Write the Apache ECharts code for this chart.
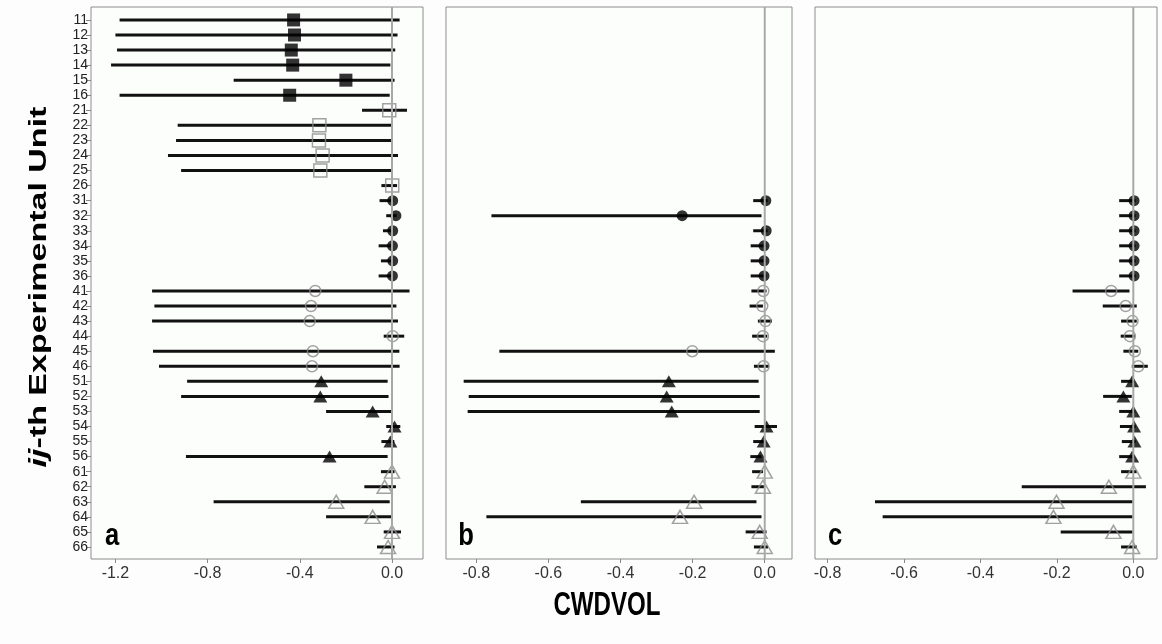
<!DOCTYPE html>
<html>
<head>
<meta charset="utf-8">
<script src="https://cdn.jsdelivr.net/npm/echarts@6/dist/echarts.min.js"></script>
<style>html,body{margin:0;padding:0;background:#fcfdfc;}#chart{width:1162px;height:644px;}</style>
</head>
<body>
<div id="chart"></div>
<script>
// ---- data ----
const rows = ['11','12','13','14','15','16','21','22','23','24','25','26','31','32','33','34','35','36',
              '41','42','43','44','45','46','51','52','53','54','55','56','61','62','63','64','65','66'];
const ticksA = [-1.2, -0.8, -0.4, 0.0];
const ticksBC = [-0.8, -0.6, -0.4, -0.2, 0.0];

// panel a
const estA = [-0.427,-0.423,-0.437,-0.431,-0.200,-0.444, -0.012,-0.315,-0.317,-0.301,-0.311,0.001,
              0.003,0.017,0.003,0.002,0.003,0.002, -0.333,-0.351,-0.357,0.003,-0.343,-0.347,
              -0.307,-0.311,-0.084,0.011,-0.007,-0.271, 0.000,-0.032,-0.242,-0.084,0.000,-0.017];
const loA  = [-1.182,-1.200,-1.193,-1.219,-0.687,-1.182, -0.130,-0.930,-0.937,-0.972,-0.915,-0.046,
              -0.054,-0.025,-0.039,-0.058,-0.048,-0.058, -1.041,-1.031,-1.041,-0.036,-1.037,-1.011,
              -0.889,-0.915,-0.286,-0.025,-0.046,-0.894, -0.048,-0.120,-0.774,-0.286,-0.036,-0.065];
const hiA  = [0.033,0.024,0.014,-0.007,0.011,-0.010, 0.065,-0.003,0.000,0.026,-0.003,0.022,
              0.005,0.020,0.005,0.004,0.005,0.004, 0.076,0.019,0.026,0.053,0.032,0.033,
              -0.019,-0.015,-0.003,0.036,0.010,-0.019, 0.011,0.017,-0.010,-0.003,0.039,0.011];
// panel b (units 11-26 absent)
const estB = [null,null,null,null,null,null, null,null,null,null,null,null,
              0.003,-0.229,0.004,-0.002,-0.002,-0.002, -0.004,-0.007,0.002,-0.005,-0.201,-0.003,
              -0.266,-0.272,-0.258,0.005,-0.003,-0.012, 0.000,-0.005,-0.196,-0.235,-0.014,0.000];
const loB  = [null,null,null,null,null,null, null,null,null,null,null,null,
              -0.032,-0.758,-0.032,-0.039,-0.039,-0.039, -0.037,-0.042,-0.019,-0.035,-0.736,-0.030,
              -0.835,-0.821,-0.824,-0.028,-0.032,-0.040, -0.035,-0.037,-0.510,-0.772,-0.053,-0.030];
const hiB  = [null,null,null,null,null,null, null,null,null,null,null,null,
              0.008,-0.009,0.008,0.004,0.004,0.004, 0.005,-0.005,0.020,0.007,0.028,0.011,
              -0.017,-0.014,-0.014,0.034,0.000,-0.009, -0.005,0.000,-0.023,-0.009,0.005,0.009];
// panel c (units 11-26 absent)
const estC = [null,null,null,null,null,null, null,null,null,null,null,null,
              0.002,0.002,0.002,0.002,0.002,0.002, -0.058,-0.020,-0.002,-0.009,0.004,0.013,
              -0.003,-0.026,0.000,0.002,0.003,-0.003, 0.000,-0.064,-0.201,-0.209,-0.052,-0.003];
const loC  = [null,null,null,null,null,null, null,null,null,null,null,null,
              -0.037,-0.037,-0.037,-0.037,-0.037,-0.037, -0.159,-0.080,-0.032,-0.033,-0.026,-0.004,
              -0.032,-0.079,-0.037,-0.035,-0.030,-0.037, -0.032,-0.292,-0.676,-0.656,-0.190,-0.032];
const hiC  = [null,null,null,null,null,null, null,null,null,null,null,null,
              0.006,0.006,0.006,0.006,0.006,0.006, -0.010,0.009,0.009,0.004,0.013,0.038,
              0.003,-0.004,0.005,0.006,0.006,0.003, 0.009,0.033,-0.002,-0.002,-0.002,0.009];

// ---- layout / styles ----
const panels = [
  {est: estA, lo: loA, hi: hiA, ticks: ticksA, min: -1.306, max: 0.1345, left: 91, width: 332},
  {est: estB, lo: loB, hi: hiB, ticks: ticksBC, min: -0.884, max: 0.0756, left: 446, width: 346},
  {est: estC, lo: loC, hi: hiC, ticks: ticksBC, min: -0.833, max: 0.062, left: 815, width: 342}
];
const YMIN = -0.86, YMAX = 35.8;
const GREY = '#8a8a8a';
const groupStyles = [
  {symbol: 'rect', size: 13, itemStyle: {color: '#000'}},
  {symbol: 'rect', size: 13, itemStyle: {color: 'rgba(0,0,0,0)', borderColor: GREY, borderWidth: 1.5}},
  {symbol: 'circle', size: 11, itemStyle: {color: '#000'}},
  {symbol: 'circle', size: 11, itemStyle: {color: 'rgba(0,0,0,0)', borderColor: GREY, borderWidth: 1.5}},
  {symbol: 'triangle', size: [14, 12], itemStyle: {color: '#000'}},
  {symbol: 'triangle', size: [15, 13], itemStyle: {color: 'rgba(0,0,0,0)', borderColor: GREY, borderWidth: 1.5}}
];
const idx = rows.map((r, i) => i);
const FONT = "'Liberation Sans', Arial, sans-serif";

const grid = [], xAxis = [], yAxis = [], series = [];
panels.forEach((p, k) => {
  grid.push({left: p.left, top: 7, width: p.width, height: 552, show: true,
             borderColor: '#8c8c8c', borderWidth: 1, backgroundColor: '#fcfefc'});
  xAxis.push({type: 'value', gridIndex: k, min: p.min, max: p.max, position: 'bottom',
    axisLine: {show: false, onZero: false}, splitLine: {show: false},
    axisTick: {show: true, customValues: p.ticks, length: 4, lineStyle: {color: '#888'}},
    axisLabel: {customValues: p.ticks, formatter: v => v.toFixed(1), fontSize: 16, color: '#333',
                margin: 7, fontFamily: FONT}});
  yAxis.push({type: 'value', gridIndex: k, inverse: true, min: YMIN, max: YMAX, position: 'left',
    axisLine: {show: false, onZero: false}, splitLine: {show: false},
    axisTick: {show: k === 0, customValues: idx, length: 5, lineStyle: {color: '#888'}},
    axisLabel: {show: k === 0, customValues: idx, formatter: v => rows[Math.round(v)],
                fontSize: 14, color: '#222', margin: 3, fontFamily: FONT}});
  // error bars
  const bars = [];
  idx.forEach(i => { if (p.lo[i] !== null) bars.push([i, p.lo[i], p.hi[i]]); });
  series.push({type: 'custom', xAxisIndex: k, yAxisIndex: k, data: bars, z: 2, silent: true,
    encode: {x: [1, 2], y: 0},
    renderItem: (params, api) => {
      const y = api.value(0);
      const a = api.coord([api.value(1), y]);
      const b = api.coord([api.value(2), y]);
      return {type: 'line', shape: {x1: a[0], y1: a[1], x2: b[0], y2: b[1]},
              style: {stroke: '#111', lineWidth: 3}};
    }});
  // point estimates by group
  groupStyles.forEach((g, gi) => {
    const d = [];
    for (let i = gi * 6; i < gi * 6 + 6; i++) if (p.est[i] !== null) d.push([p.est[i], i]);
    series.push({type: 'scatter', xAxisIndex: k, yAxisIndex: k, data: d, z: 3, silent: true,
      symbol: g.symbol, symbolSize: g.size, itemStyle: g.itemStyle});
  });
  // zero reference line
  series.push({type: 'line', xAxisIndex: k, yAxisIndex: k, data: [[0, YMIN], [0, YMAX]], z: 5,
    silent: true, showSymbol: false, lineStyle: {color: '#a8a8a8', width: 2}});
});

const chart = echarts.init(document.getElementById('chart'));
chart.setOption({
  backgroundColor: '#fcfdfc',
  animation: false,
  grid, xAxis, yAxis, series,
  graphic: [
    {type: 'text', x: 39, y: 287, rotation: Math.PI / 2, scaleY: 0.73,
     style: {text: '{it|ij}-th Experimental Unit', fontSize: 34, fontWeight: 'bold', fontFamily: "'Liberation Sans', Arial",
             fill: '#000', align: 'center', verticalAlign: 'middle',
             rich: {it: {fontStyle: 'italic', fontWeight: 'bold', fontSize: 34, fontFamily: "'Liberation Sans', Arial"}}}},
    {type: 'text', x: 607, y: 606, scaleX: 0.73,
     style: {text: 'CWDVOL', fontSize: 33, fontWeight: 'bold', fontFamily: "'Liberation Sans', Arial",
             fill: '#000', align: 'center', verticalAlign: 'middle'}},
    {type: 'text', x: 112, y: 536, scaleX: 0.8, z: 10,
     style: {text: 'a', fontSize: 32, fontWeight: 'bold', fontFamily: "'Liberation Sans', Arial", fill: '#000', align: 'center', verticalAlign: 'middle'}},
    {type: 'text', x: 466, y: 536, scaleX: 0.8, z: 10,
     style: {text: 'b', fontSize: 32, fontWeight: 'bold', fontFamily: "'Liberation Sans', Arial", fill: '#000', align: 'center', verticalAlign: 'middle'}},
    {type: 'text', x: 835, y: 536, scaleX: 0.8, z: 10,
     style: {text: 'c', fontSize: 32, fontWeight: 'bold', fontFamily: "'Liberation Sans', Arial", fill: '#000', align: 'center', verticalAlign: 'middle'}}
  ]
});
</script>
</body>
</html>
